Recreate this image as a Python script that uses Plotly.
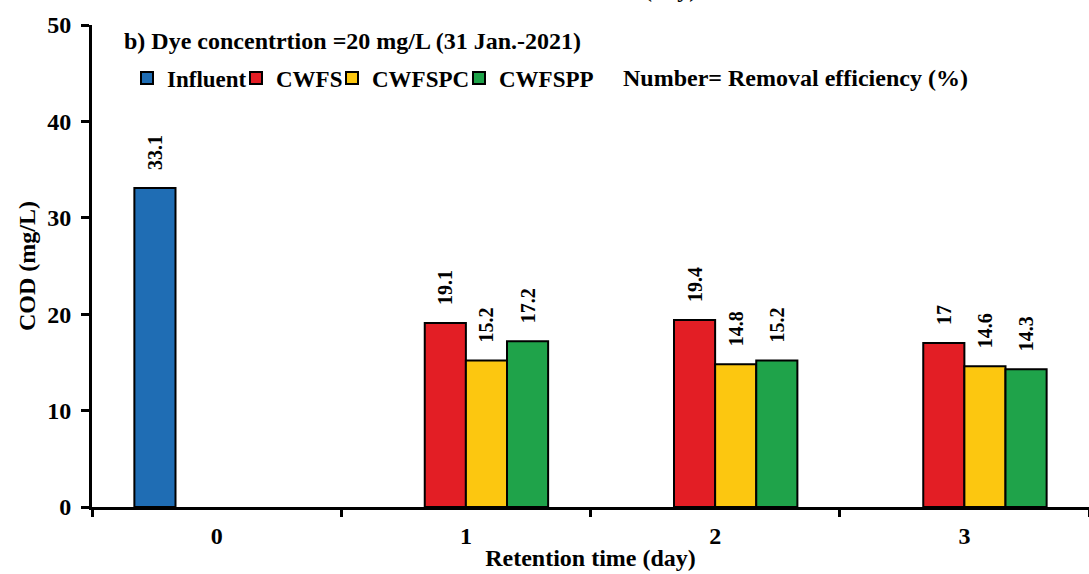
import plotly.graph_objects as go

# ---- data ----
categories = ["0", "1", "2", "3"]
influent = [33.1, None, None, None]
cwfs = [None, 19.1, 19.4, 17.0]
cwfspc = [None, 15.2, 14.8, 14.6]
cwfspp = [None, 17.2, 15.2, 14.3]

series_names = ["Influent", "CWFS", "CWFSPC", "CWFSPP"]
series_values = [influent, cwfs, cwfspc, cwfspp]
series_colors = ["#1f6db4", "#e31e25", "#fcc710", "#1fa34a"]

W, H = 1089, 574
ML, MR, MT, MB = 92, 0, 25, 67
FONT = "Times New Roman, Liberation Serif, serif"
legend_x_px = [127, 236, 332, 459]


def px_x(p):
    return (p - ML) / (W - ML - MR)


def px_y(p):
    return 1 - (p - MT) / (H - MT - MB)


def fnt(size=24):
    return dict(family=FONT, size=size, color="black", weight="bold")


fig = go.Figure()
legend_ids = ["legend", "legend2", "legend3", "legend4"]
for name, vals, col, lid in zip(series_names, series_values, series_colors, legend_ids):
    labels = ["\u00a0\u00a0\u00a0" + f"{v:g}" if v is not None else "" for v in vals]
    fig.add_trace(go.Bar(
        name=name, x=categories, y=vals, legend=lid,
        marker=dict(color=col, line=dict(color="black", width=2)),
        text=labels, textposition="outside", textangle=-90,
        constraintext="none", cliponaxis=False,
        textfont=fnt(20),
    ))

legend_layout = {}
for lid, lx in zip(legend_ids, legend_x_px):
    legend_layout[lid] = dict(
        orientation="h", xref="container", yref="container",
        x=lx / W, y=1 - 78 / H, xanchor="left", yanchor="middle",
        font=fnt(23), itemwidth=30, bgcolor="rgba(0,0,0,0)", borderwidth=0)

fig.update_layout(
    width=W, height=H,
    margin=dict(l=ML, r=MR, t=MT, b=MB, autoexpand=False),
    paper_bgcolor="white", plot_bgcolor="white",
    font=fnt(24),
    barmode="group", bargap=0.34, bargroupgap=0,
    showlegend=True,
    xaxis=dict(type="category", showline=True, linecolor="black", linewidth=3,
               ticks="outside", tickson="boundaries", ticklen=7, tickwidth=3,
               tickcolor="black", showgrid=False, tickfont=fnt(24),
               ticklabelstandoff=5,
               title=dict(text="Retention time (day)", standoff=2, font=fnt(24))),
    yaxis=dict(range=[0, 50], dtick=10, showline=True, linecolor="black",
               linewidth=3, ticks="outside", ticklen=8, tickwidth=3,
               tickcolor="black", showgrid=False, zeroline=False,
               ticklabelstandoff=5, tickfont=fnt(24),
               title=dict(text="COD (mg/L)", standoff=5, font=fnt(24))),
    annotations=[
        dict(text="b) Dye concentrtion =20 mg/L (31 Jan.-2021)", xref="paper", yref="paper",
             x=px_x(122), y=px_y(41), xanchor="left", yanchor="middle", showarrow=False,
             font=fnt(24)),
        dict(text="Number= Removal efficiency (%)", xref="paper", yref="paper",
             x=px_x(621), y=px_y(78), xanchor="left", yanchor="middle", showarrow=False,
             font=fnt(24)),
        dict(text="(day)", xref="paper", yref="paper",
             x=px_x(670), y=1, xanchor="center", yanchor="bottom", yshift=21,
             showarrow=False, font=fnt(24)),
    ],
    **legend_layout,
)

fig.write_html("out.html")
